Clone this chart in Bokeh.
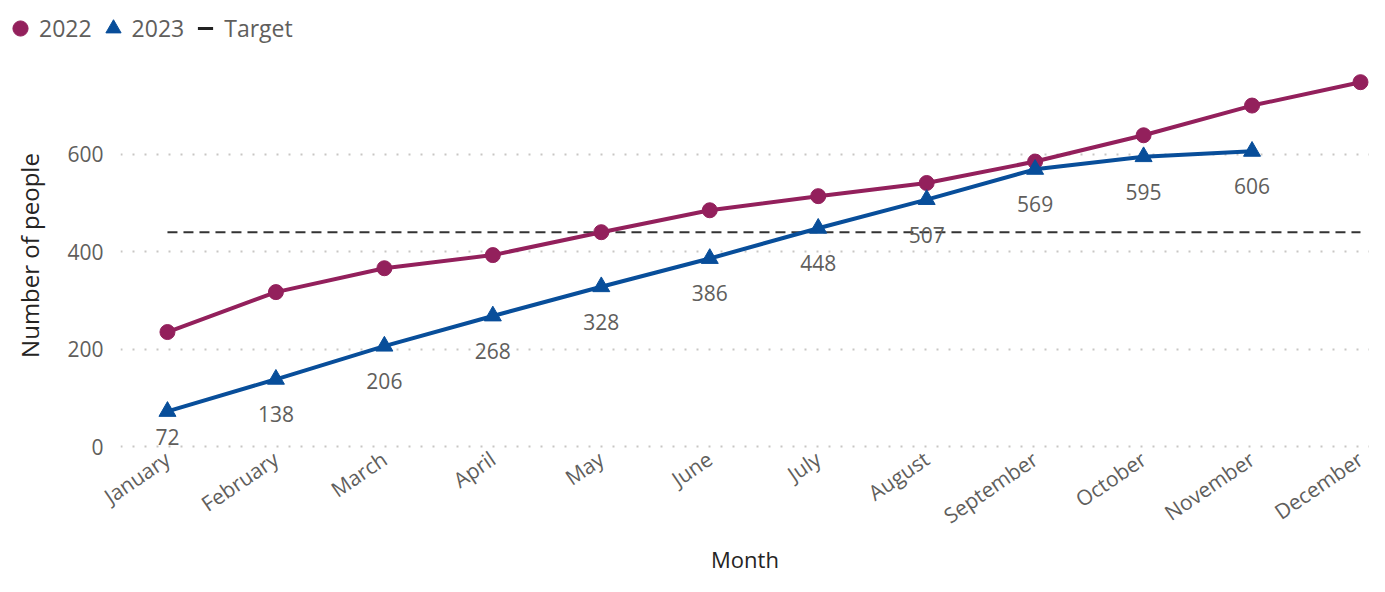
from bokeh.plotting import figure
from bokeh.layouts import column
from bokeh.models import Range1d, FixedTicker, Legend, LegendItem, ColumnDataSource
from bokeh.core.properties import value
from bokeh.embed import file_html
from bokeh.resources import INLINE

months = ["January", "February", "March", "April", "May", "June", "July",
          "August", "September", "October", "November", "December"]
values_2022 = [235, 317, 366, 393, 440, 485, 514, 541, 585, 639, 700, 748]
values_2023 = [72, 138, 206, 268, 328, 386, 448, 507, 569, 595, 606]
target = 440
y_ticks = [0, 200, 400, 600]
series_names = ["2022", "2023", "Target"]

FONT = "Open Sans"
C2022 = "#93205C"
C2023 = "#084E9A"
GRAY = "#605E5C"
DARK = "#252423"

x22 = list(range(len(values_2022)))
x23 = list(range(len(values_2023)))

# ---- legend strip ----
lg = figure(width=1369, height=60, output_backend="svg", toolbar_location=None,
            x_range=Range1d(0, 1), y_range=Range1d(0, 1),
            min_border_left=0, min_border_right=0, min_border_top=0, min_border_bottom=0)
lg.frame_align = False
lg.axis.visible = False
lg.grid.visible = False
lg.outline_line_color = None
# hidden proxies (outside the visible range) that only feed the legend swatches
d22 = lg.scatter(x=[5], y=[5], marker="circle", size=15, fill_color=C2022, line_color=C2022)
d23 = lg.scatter(x=[5], y=[5], marker="triangle", size=17, fill_color=C2023, line_color=C2023)
dtg = lg.scatter(x=[5], y=[5], marker="dash", size=10, line_color="#222222", line_width=3)
legend = Legend(items=[LegendItem(label=series_names[0], renderers=[d22]),
                       LegendItem(label=series_names[1], renderers=[d23]),
                       LegendItem(label=series_names[2], renderers=[dtg])],
                location=(1, 13), orientation="horizontal",
                label_text_font=FONT, label_text_font_size="23px",
                label_text_color=GRAY, glyph_width=38, glyph_height=38,
                label_standoff=0, spacing=2, padding=0, margin=0,
                background_fill_alpha=0, border_line_color=None)
lg.add_layout(legend, "center")

# ---- main chart ----
p = figure(width=1369, height=516, output_backend="svg", toolbar_location=None,
           x_range=Range1d(-0.433, 11.083), y_range=Range1d(-8.2, 792.5),
           min_border_left=120, min_border_right=0, min_border_top=0, min_border_bottom=125)
p.frame_align = False
p.outline_line_color = None
p.xgrid.visible = False
p.ygrid.grid_line_color = "#C8C6C4"
p.ygrid.grid_line_dash = "2 10"
p.ygrid.grid_line_width = 2

p.yaxis.ticker = FixedTicker(ticks=y_ticks)
p.xaxis.ticker = FixedTicker(ticks=x22)
p.xaxis.major_label_overrides = {i: m for i, m in enumerate(months)}
p.xaxis.major_label_orientation = 0.6
for ax in (p.xaxis, p.yaxis):
    ax.axis_line_color = None
    ax.major_tick_line_color = None
    ax.minor_tick_line_color = None
    ax.major_label_text_font = FONT
    ax.major_label_text_font_size = "21px"
    ax.major_label_text_color = GRAY
    ax.axis_label_text_font = FONT
    ax.axis_label_text_font_style = "normal"
    ax.axis_label_text_color = DARK
p.yaxis.axis_label_text_font_size = "24px"
p.xaxis.axis_label_text_font_size = "22px"
p.yaxis.major_label_standoff = 11
p.xaxis.major_label_standoff = 0
p.yaxis.axis_label = "Number of people"
p.yaxis.axis_label_standoff = 18
p.xaxis.axis_label = "Month"
p.xaxis.axis_label_standoff = 0

# target line
p.line(x=[x22[0], x22[-1]], y=[target, target], line_color="#333333",
       line_width=2, line_dash="10 6")

# series
p.line(x=x22, y=values_2022, line_color=C2022, line_width=4)
p.scatter(x=x22, y=values_2022, marker="circle", size=15,
          fill_color=C2022, line_color=C2022)
p.line(x=x23, y=values_2023, line_color=C2023, line_width=4)
p.scatter(x=x23, y=values_2023, marker="triangle", size=17,
          fill_color=C2023, line_color=C2023)

offsets = [26] + [35] * (len(values_2023) - 1)
src = ColumnDataSource(dict(x=x23, y=values_2023, t=[str(v) for v in values_2023], off=offsets))
p.text(x="x", y="y", text="t", y_offset="off", source=src, text_align="center",
       text_baseline="middle", text_font=value(FONT), text_font_size="21px",
       text_color=GRAY)

layout = column(lg, p, spacing=0)
open("out.html", "w").write(file_html(layout, INLINE))
